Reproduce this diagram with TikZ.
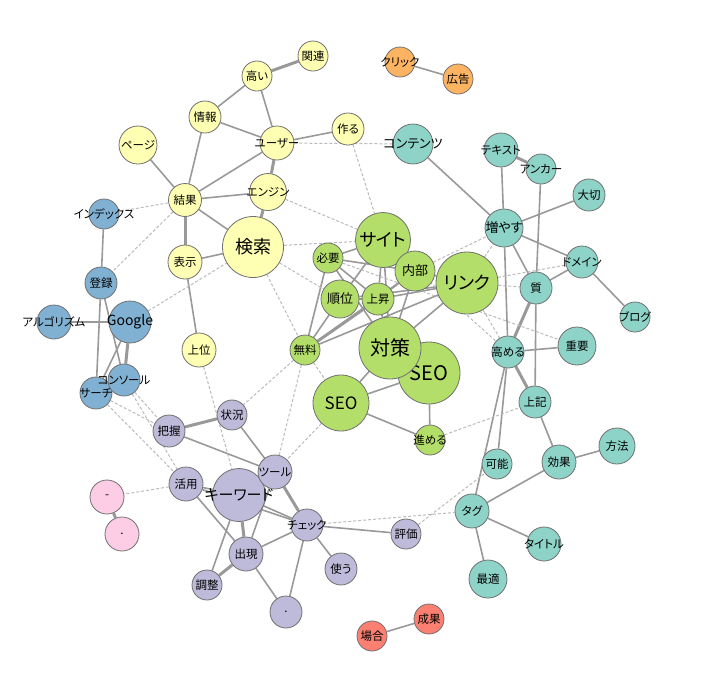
\documentclass[tikz,border=0pt]{standalone}
\usepackage{fontspec}
\setmainfont[RawFeature=+palt]{Noto Sans CJK JP}
\definecolor{yelC}{HTML}{FFFFB3}
\definecolor{oraC}{HTML}{FDB462}
\definecolor{teaC}{HTML}{8DD3C7}
\definecolor{greC}{HTML}{B3DE69}
\definecolor{bluC}{HTML}{80B1D3}
\definecolor{purC}{HTML}{BEBADA}
\definecolor{pinC}{HTML}{FCCDE5}
\definecolor{redC}{HTML}{FB8072}
\definecolor{rimC}{HTML}{707070}
\definecolor{edgeC}{HTML}{999999}
\definecolor{weakC}{HTML}{BBBBBB}
\pgfdeclarelayer{bg}
\pgfsetlayers{bg,main}
% label that may run past its circle
\newcommand{\lbl}[1]{\makebox[0pt]{#1}}
\tikzset{
  word/.style={circle, draw=rimC, line width=0.8pt, inner sep=0pt,
    font=\fontsize{11.5}{12}\selectfont},
  yel/.style={word, fill=yelC},
  ora/.style={word, fill=oraC},
  tea/.style={word, fill=teaC},
  gre/.style={word, fill=greC},
  blu/.style={word, fill=bluC},
  pur/.style={word, fill=purC},
  pin/.style={word, fill=pinC},
  red/.style={word, fill=redC},
  mid/.style={font=\fontsize{13}{14}\selectfont},
  big/.style={font=\fontsize{18}{20}\selectfont},
  link/.style={draw=edgeC, line width=1.6pt},
  strong/.style={draw=edgeC, line width=3pt},
  weak/.style={draw=weakC, line width=1pt, dash pattern=on 3pt off 2pt}
}

\begin{document}
\begin{tikzpicture}[x=1pt, y=-1pt]
    \useasboundingbox (0,0) rectangle (705,681);
    % yellow group
    \node[yel, minimum size=30pt] (kanren) at (313,56) {関連};
    \node[yel, minimum size=30pt] (takai) at (257,76) {高い};
    \node[yel, minimum size=32pt] (joho) at (205,117) {情報};
    \node[yel, minimum size=38pt] (page) at (138,145) {\lbl{ページ}};
    \node[yel, minimum size=34pt] (user) at (277,143) {\lbl{ユーザー}};
    \node[yel, minimum size=32pt] (tsukuru) at (348,129) {作る};
    \node[yel, minimum size=37pt] (engine) at (268,192) {\lbl{エンジン}};
    \node[yel, minimum size=33pt] (kekka) at (185,200) {結果};
    \node[yel, minimum size=61pt, big] (kensaku) at (253,247) {検索};
    \node[yel, minimum size=34pt] (hyoji) at (185,262) {表示};
    \node[yel, minimum size=34pt] (joui) at (199,350) {上位};
    % orange group
    \node[ora, minimum size=30pt] (click) at (400,62) {\lbl{クリック}};
    \node[ora, minimum size=30pt] (kokoku) at (458,79) {広告};
    % teal group
    \node[tea, minimum size=40pt, mid] (contents) at (413,144) {\lbl{コンテンツ}};
    \node[tea, minimum size=34pt] (text) at (501,150) {\lbl{テキスト}};
    \node[tea, minimum size=30pt] (anchor) at (541,169) {\lbl{アンカー}};
    \node[tea, minimum size=32pt] (taisetsu) at (589,195) {大切};
    \node[tea, minimum size=38pt, mid] (fuyasu) at (504,228) {\lbl{増やす}};
    \node[tea, minimum size=32pt] (domain) at (582,262) {\lbl{ドメイン}};
    \node[tea, minimum size=32pt] (shitsu) at (536,288) {質};
    \node[tea, minimum size=30pt] (blog) at (635,317) {\lbl{ブログ}};
    \node[tea, minimum size=32pt] (takameru) at (508,352) {\lbl{高める}};
    \node[tea, minimum size=38pt] (juyo) at (577,346) {重要};
    \node[tea, minimum size=32pt] (jouki) at (535,402) {上記};
    \node[tea, minimum size=36pt] (hoho) at (617,446) {方法};
    \node[tea, minimum size=34pt] (koka) at (559,462) {効果};
    \node[tea, minimum size=30pt] (kano) at (497,464) {可能};
    \node[tea, minimum size=34pt] (tag) at (472,511) {タグ};
    \node[tea, minimum size=34pt] (title) at (544,544) {\lbl{タイトル}};
    \node[tea, minimum size=38pt] (saiteki) at (488,579) {最適};
    % green group
    \node[gre, minimum size=55pt, big] (site) at (383,240) {\lbl{サイト}};
    \node[gre, minimum size=30pt] (hitsuyo) at (328,258) {必要};
    \node[gre, minimum size=40pt, mid] (naibu) at (415,271) {内部};
    \node[gre, minimum size=38pt, mid] (juni) at (340,299) {順位};
    \node[gre, minimum size=32pt] (josho) at (378,299) {上昇};
    \node[gre, minimum size=62pt, big] (link) at (467,283) {\lbl{リンク}};
    \node[gre, minimum size=62pt, font=\fontsize{20}{22}\selectfont] (seoA) at (429,373) {SEO};
    \node[gre, minimum size=62pt, font=\fontsize{20}{22}\selectfont] (taisaku) at (390,348) {対策};
    \node[gre, minimum size=30pt] (muryo) at (305,350) {無料};
    \node[gre, minimum size=56pt, font=\fontsize{17}{19}\selectfont] (seoB) at (341,403) {SEO};
    \node[gre, minimum size=30pt] (susumeru) at (430,440) {\lbl{進める}};
    % blue group
    \node[blu, minimum size=30pt] (index) at (104,214) {\lbl{インデックス}};
    \node[blu, minimum size=32pt] (toroku) at (101,283) {登録};
    \node[blu, minimum size=42pt, font=\fontsize{14}{16}\selectfont] (google) at (130,322) {\lbl{Google}};
    \node[blu, minimum size=34pt] (algo) at (54,322) {\lbl{アルゴリズム}};
    \node[blu, minimum size=32pt] (search) at (96,393) {\lbl{サーチ}};
    \node[blu, minimum size=32pt] (console) at (124,380) {\lbl{コンソール}};
    % purple group
    \node[pur, minimum size=30pt] (jokyo) at (232,415) {状況};
    \node[pur, minimum size=32pt] (haaku) at (169,431) {把握};
    \node[pur, minimum size=34pt] (katsuyo) at (186,484) {活用};
    \node[pur, minimum size=53pt, font=\fontsize{15}{17}\selectfont] (keyword) at (239,495) {\lbl{キーワード}};
    \node[pur, minimum size=34pt] (tool) at (275,472) {\lbl{ツール}};
    \node[pur, minimum size=32pt] (check) at (307,525) {\lbl{チェック}};
    \node[pur, minimum size=34pt] (shutsugen) at (246,554) {出現};
    \node[pur, minimum size=32pt] (tsukau) at (341,569) {使う};
    \node[pur, minimum size=30pt] (chosei) at (207,585) {調整};
    \node[pur, minimum size=32pt] (dot) at (286,612) {.};
    \node[pur, minimum size=30pt] (hyoka) at (406,534) {評価};
    % pink and red pairs
    \node[pin, minimum size=34pt] (dash) at (107,497) {-};
    \node[pin, minimum size=34pt] (pdot) at (122,534) {.};
    \node[red, minimum size=30pt] (seika) at (429,619) {成果};
    \node[red, minimum size=30pt] (baai) at (372,636) {場合};
    % connectors
    \begin{pgfonlayer}{bg}
    \foreach \a/\b in {takai/joho, takai/user, joho/user, joho/kekka, page/kekka,
        user/tsukuru, user/kekka, engine/kekka, kekka/kensaku, hyoji/kensaku,
        hyoji/joui, click/kokoku,
        contents/fuyasu, text/fuyasu, anchor/shitsu, shitsu/jouki, taisetsu/fuyasu,
        fuyasu/domain, fuyasu/shitsu, fuyasu/takameru, domain/shitsu, domain/blog,
        takameru/juyo, takameru/kano, takameru/tag, jouki/koka, koka/hoho,
        koka/tag, tag/title, tag/saiteki,
        index/toroku, toroku/console, toroku/search, algo/google, google/search,
        console/search,
        jokyo/tool, haaku/tool, katsuyo/keyword, katsuyo/shutsugen, keyword/tool,
        keyword/check, katsuyo/check, keyword/chosei, tool/shutsugen,
        shutsugen/check, shutsugen/dot, check/dot, check/tsukau, check/hyoka,
        seika/baai,
        site/hitsuyo, hitsuyo/naibu, hitsuyo/josho, hitsuyo/taisaku, hitsuyo/muryo,
        site/josho, site/naibu, site/taisaku, site/juni, naibu/josho, naibu/link,
        naibu/taisaku, juni/josho, juni/muryo, juni/link, josho/link,
        josho/taisaku, muryo/naibu, muryo/link, link/taisaku, taisaku/seoA,
        taisaku/seoB, seoA/seoB, seoA/susumeru, seoB/susumeru}
        \draw[link] (\a) -- (\b);
    \foreach \a/\b in {kanren/takai, user/engine, engine/kensaku, kekka/hyoji,
        text/anchor, shitsu/takameru, takameru/jouki, google/console,
        jokyo/haaku, keyword/shutsugen, tool/check, shutsugen/chosei,
        dash/pdot, muryo/josho}
        \draw[strong] (\a) -- (\b);
    \foreach \a/\b in {user/contents, tsukuru/site, engine/site, kensaku/site,
        kensaku/juni, kensaku/muryo, kekka/index, kekka/toroku, google/kensaku,
        joui/keyword, muryo/jokyo, muryo/tool, muryo/seoB, seoB/tool,
        search/haaku, console/haaku, search/katsuyo, console/katsuyo,
        katsuyo/dash, check/tag, hyoka/kano, susumeru/jouki, naibu/fuyasu,
        link/fuyasu, link/domain, link/shitsu, link/takameru, site/takameru,
        hitsuyo/juyo}
        \draw[weak] (\a) -- (\b);
    \end{pgfonlayer}
\end{tikzpicture}
\end{document}
